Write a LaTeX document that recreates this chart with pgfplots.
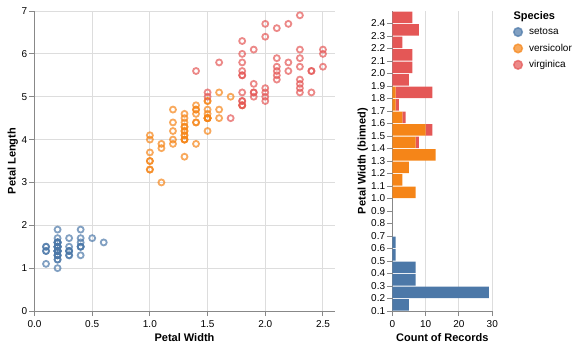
\documentclass[border=0pt]{standalone}
\usepackage{pgfplots}
\usepackage{pgfplotstable}
\pgfplotsset{compat=1.18}
\usepackage{fontspec}
\setmainfont{Liberation Sans}

\definecolor{cS}{HTML}{4C78A8}
\definecolor{cV}{HTML}{F58518}
\definecolor{cG}{HTML}{E45756}
\definecolor{dom}{HTML}{888888}
\definecolor{grd}{HTML}{DDDDDD}

\pgfplotstableread{
w l
0.2 1.4
0.2 1.4
0.2 1.3
0.2 1.5
0.2 1.4
0.4 1.7
0.3 1.4
0.2 1.5
0.2 1.4
0.1 1.5
0.2 1.5
0.2 1.6
0.1 1.4
0.1 1.1
0.2 1.2
0.4 1.5
0.4 1.3
0.3 1.4
0.3 1.7
0.3 1.5
0.2 1.7
0.4 1.5
0.2 1.0
0.5 1.7
0.2 1.9
0.2 1.6
0.4 1.6
0.2 1.5
0.2 1.4
0.2 1.6
0.2 1.6
0.4 1.5
0.1 1.5
0.2 1.4
0.2 1.5
0.2 1.2
0.2 1.3
0.1 1.4
0.2 1.3
0.2 1.5
0.3 1.3
0.3 1.3
0.2 1.3
0.6 1.6
0.4 1.9
0.3 1.4
0.2 1.6
0.2 1.4
0.2 1.5
0.2 1.4
}\setosa

\pgfplotstableread{
w l
1.4 4.7
1.5 4.5
1.5 4.9
1.3 4.0
1.5 4.6
1.3 4.5
1.6 4.7
1.0 3.3
1.3 4.6
1.4 3.9
1.0 3.5
1.5 4.2
1.0 4.0
1.4 4.7
1.3 3.6
1.4 4.4
1.5 4.5
1.0 4.1
1.5 4.5
1.1 3.9
1.8 4.8
1.3 4.0
1.5 4.9
1.2 4.7
1.3 4.3
1.4 4.4
1.4 4.8
1.7 5.0
1.5 4.5
1.0 3.5
1.1 3.8
1.0 3.7
1.2 3.9
1.6 5.1
1.5 4.5
1.6 4.5
1.5 4.7
1.3 4.4
1.3 4.1
1.3 4.0
1.2 4.4
1.4 4.6
1.2 4.0
1.0 3.3
1.3 4.2
1.2 4.2
1.3 4.2
1.3 4.3
1.1 3.0
1.3 4.1
}\versicolor

\pgfplotstableread{
w l
2.5 6.0
1.9 5.1
2.1 5.9
1.8 5.6
2.2 5.8
2.1 6.6
1.7 4.5
1.8 6.3
1.8 5.8
2.5 6.1
2.0 5.1
1.9 5.3
2.1 5.5
2.0 5.0
2.4 5.1
2.3 5.3
1.8 5.5
2.2 6.7
2.3 6.9
1.5 5.0
2.3 5.7
2.0 4.9
2.0 6.7
1.8 4.9
2.1 5.7
1.8 6.0
1.8 4.8
1.8 4.9
2.1 5.6
1.6 5.8
1.9 6.1
2.0 6.4
2.2 5.6
1.5 5.1
1.4 5.6
2.3 6.1
2.4 5.6
1.8 5.5
1.8 4.8
2.1 5.4
2.4 5.6
2.3 5.1
1.9 5.1
2.3 5.9
2.5 5.7
2.3 5.2
1.9 5.0
2.0 5.2
2.3 5.4
1.8 5.1
}\virginica

% bin centre, counts per species (bins of 0.1 starting at 0.1)
\pgfplotstableread{
bin s v g
0.15 5 0 0
0.25 29 0 0
0.35 7 0 0
0.45 7 0 0
0.55 1 0 0
0.65 1 0 0
0.75 0 0 0
0.85 0 0 0
0.95 0 0 0
1.05 0 7 0
1.15 0 3 0
1.25 0 5 0
1.35 0 13 0
1.45 0 7 1
1.55 0 10 2
1.65 0 3 1
1.75 0 1 1
1.85 0 1 11
1.95 0 0 5
2.05 0 0 6
2.15 0 0 6
2.25 0 0 3
2.35 0 0 8
2.45 0 0 6
}\bins

\pgfplotsset{
  vstyle/.style={
    scale only axis,
    axis x line*=bottom, axis y line*=left,
    axis line style={draw=dom, line width=1pt, -},
    tick align=outside,
    major tick length=5pt,
    tick style={draw=dom, line width=1pt},
    minor tick num=0,
    grid style={draw=grd, line width=1pt},
    ticklabel style={font=\fontsize{10}{12}\selectfont, inner sep=0pt, text=black},
    /pgf/number format/assume math mode=true,
    label style={font=\bfseries\fontsize{11}{13}\selectfont, inner sep=0pt, text=black},
    xticklabel shift=4pt,
    yticklabel shift=2pt,
  },
  ptmark/.style={only marks, mark=o, mark size=3pt, mark options={line width=1.8pt, draw opacity=0.7}},
}

\begin{document}
\begin{tikzpicture}
\path[use as bounding box] (0,0) rectangle (576pt,349pt);

\begin{axis}[
  vstyle,
  at={(34.5pt,38pt)}, anchor=south west,
  width=300pt, height=300pt,
  xmin=0, xmax=2.6, ymin=0, ymax=7,
  xtick={0,0.5,1,1.5,2,2.5},
  ytick={0,1,2,3,4,5,6,7},
  xmajorgrids, ymajorgrids,
  xticklabel style={/pgf/number format/.cd, fixed, fixed zerofill, precision=1},
  xlabel={Petal Width},
  ylabel={Petal Length},
  xlabel style={at={(axis description cs:0.5,-0.1017)}, anchor=base},
  ylabel style={at={(axis description cs:-0.0627,0.5)}, anchor=base},
]
\addplot[ptmark, color=cS] table[x=w, y=l] {\setosa};
\addplot[ptmark, color=cV] table[x=w, y=l] {\versicolor};
\addplot[ptmark, color=cG] table[x=w, y=l] {\virginica};
\end{axis}

\begin{axis}[
  vstyle,
  at={(392.3pt,38pt)}, anchor=south west,
  width=100pt, height=300pt,
  xbar stacked, bar width=0.092,
  xmin=0, xmax=30, ymin=0.1, ymax=2.5,
  xtick={0,10,20,30},
  ytick={0.1,0.2,0.3,0.4,0.5,0.6,0.7,0.8,0.9,1.0,1.1,1.2,1.3,1.4,1.5,1.6,1.7,1.8,1.9,2.0,2.1,2.2,2.3,2.4},
  yticklabel style={/pgf/number format/.cd, fixed, fixed zerofill, precision=1},
  xmajorgrids,
  clip=false,
  xlabel={Count of Records},
  ylabel={Petal Width (binned)},
  xlabel style={at={(axis description cs:0.5,-0.1017)}, anchor=base},
  ylabel style={at={(axis description cs:-0.266,0.5)}, anchor=base},
  legend cell align=left,
  legend style={at={(axis description cs:1.207,0.9467)}, anchor=north west,
    draw=none, fill=none, inner sep=0pt, outer sep=0pt,
    row sep=6.3pt, column sep=6pt,
    font=\fontsize{10}{12}\selectfont,
    nodes={inner sep=0pt, text height=7.5pt, text depth=2pt}},
]
\addlegendimage{legend image code/.code={\draw[cS, fill=cS, fill opacity=0.7, draw opacity=0.7, line width=1.5pt] (0pt,0pt) circle (4.3pt);}}
\addlegendentry{setosa}
\addlegendimage{legend image code/.code={\draw[cV, fill=cV, fill opacity=0.7, draw opacity=0.7, line width=1.5pt] (0pt,0pt) circle (4.3pt);}}
\addlegendentry{versicolor}
\addlegendimage{legend image code/.code={\draw[cG, fill=cG, fill opacity=0.7, draw opacity=0.7, line width=1.5pt] (0pt,0pt) circle (4.3pt);}}
\addlegendentry{virginica}
\addplot[fill=cS, draw=none] table[x=s, y=bin] {\bins};
\addplot[fill=cV, draw=none] table[x=v, y=bin] {\bins};
\addplot[fill=cG, draw=none] table[x=g, y=bin] {\bins};
\node[anchor=base west, font=\bfseries\fontsize{11}{13}\selectfont, inner sep=0pt] at (axis description cs:1.21,0.9723) {Species};
\end{axis}
\end{tikzpicture}
\end{document}
